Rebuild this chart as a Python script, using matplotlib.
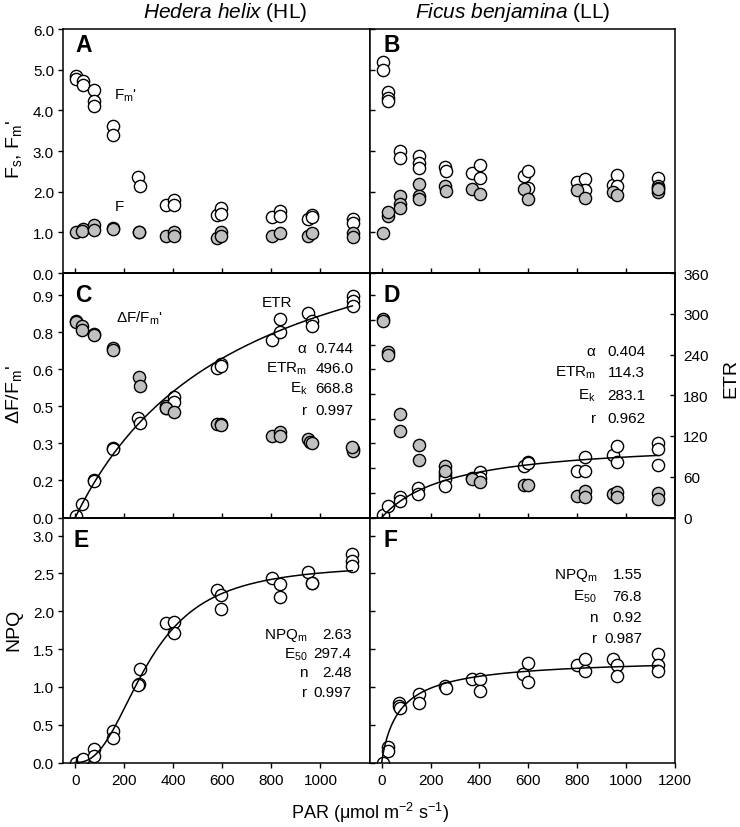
import numpy as np
import matplotlib
matplotlib.use('Agg')
import matplotlib.pyplot as plt
from matplotlib.ticker import MultipleLocator, FixedLocator

plt.rcParams['font.family'] = 'Liberation Sans'
plt.rcParams['mathtext.fontset'] = 'custom'
plt.rcParams['mathtext.rm'] = 'Liberation Sans'
plt.rcParams['mathtext.it'] = 'Liberation Sans:italic'
plt.rcParams['mathtext.bf'] = 'Liberation Sans:bold'
plt.rcParams['mathtext.default'] = 'regular'

# ---- dados ----
# A: Hedera helix, Fm' (abertos) e F (cinza)
a_fm_par = [4, 2, 30, 33, 78, 78, 78, 153, 153, 256, 264, 370, 401, 401, 578, 593, 593,
            803, 836, 836, 950, 966, 966, 1131, 1131]
a_fm = [4.84, 4.77, 4.73, 4.62, 4.50, 4.24, 4.10, 3.62, 3.39, 2.35, 2.13, 1.67, 1.80, 1.67,
        1.43, 1.59, 1.45, 1.37, 1.52, 1.41, 1.33, 1.43, 1.37, 1.33, 1.23]
a_f_par = [4, 30, 26, 78, 78, 153, 153, 260, 260, 370, 401, 401, 578, 593, 593, 803, 836,
           950, 966, 1131, 1131]
a_f = [1.00, 1.08, 1.04, 1.18, 1.06, 1.11, 1.08, 1.02, 1.00, 0.92, 1.02, 0.92, 0.87, 1.00,
       0.90, 0.92, 0.98, 0.90, 0.98, 0.98, 0.89]

# B: Ficus benjamina
b_fm_par = [4, 4, 27, 27, 27, 75, 75, 151, 154, 154, 259, 262, 368, 404, 404, 581, 597, 597,
            800, 833, 833, 948, 961, 961, 1129, 1129, 1129]
b_fm = [5.18, 4.98, 4.46, 4.30, 4.24, 3.00, 2.84, 2.87, 2.70, 2.57, 2.60, 2.50, 2.45, 2.66,
        2.34, 2.38, 2.50, 2.10, 2.25, 2.31, 2.05, 2.16, 2.42, 2.13, 2.33, 2.15, 2.08]
b_f_par = [4, 27, 27, 75, 75, 75, 151, 154, 154, 259, 262, 368, 404, 581, 597, 800, 833,
           948, 961, 1129, 1129]
b_f = [0.98, 1.39, 1.49, 1.89, 1.70, 1.59, 2.19, 1.90, 1.82, 2.13, 2.02, 2.07, 1.94, 2.07,
       1.82, 2.04, 1.84, 1.98, 1.92, 1.98, 2.07]

# C: dF/Fm' (cinza) e ETR (abertos)
c_yield_par = [4, 2, 26, 26, 78, 78, 153, 153, 260, 264, 370, 401, 578, 593, 593, 803, 836,
               836, 950, 959, 966, 1131, 1131, 1127]
c_yield = [0.796, 0.79, 0.776, 0.76, 0.745, 0.738, 0.688, 0.677, 0.569, 0.532, 0.443, 0.426,
           0.379, 0.379, 0.375, 0.328, 0.345, 0.328, 0.318, 0.305, 0.30, 0.278, 0.271, 0.287]
c_etr_par = [4, 26, 78, 78, 153, 153, 256, 264, 370, 401, 401, 370, 578, 593, 593, 803, 836,
             836, 950, 966, 966, 1131, 1131, 1131]
c_etr = [2.4, 19.6, 55.4, 54.0, 103.0, 100.6, 145.8, 138.5, 164.4, 177.7, 170.3, 160.6, 219.5,
         225.9, 223.4, 261.7, 292.2, 273.5, 301.0, 288.8, 282.3, 326.5, 319.2, 310.9]

# D
d_yield_par = [4, 4, 27, 27, 75, 75, 154, 154, 259, 259, 368, 402, 581, 597, 800, 833, 833,
               948, 961, 961, 1129, 1129]
d_yield = [0.805, 0.796, 0.67, 0.659, 0.42, 0.349, 0.294, 0.234, 0.21, 0.19, 0.156, 0.142,
           0.132, 0.132, 0.088, 0.108, 0.081, 0.095, 0.104, 0.084, 0.099, 0.074]
d_etr_par = [4, 27, 75, 75, 150, 150, 259, 259, 259, 259, 368, 402, 402, 581, 597, 597, 800,
             833, 833, 948, 961, 961, 1129, 1129, 1129]
d_etr = [3.4, 17, 29.5, 24.5, 44, 34, 66, 61, 56, 46.5, 57.5, 67, 57.5, 76, 81, 79.6, 68.7,
         88.4, 68.7, 92, 104.6, 82, 109.5, 100.6, 77]

# E, F: NPQ
e_par = [1, 26, 30, 78, 78, 153, 153, 260, 264, 256, 370, 401, 401, 578, 593, 593, 803, 836,
         836, 950, 966, 966, 1127, 1127, 1130]
e_npq = [0.0, 0.035, 0.05, 0.185, 0.088, 0.42, 0.33, 1.04, 1.24, 1.02, 1.85, 1.86, 1.71, 2.28,
         2.22, 2.03, 2.44, 2.36, 2.19, 2.52, 2.38, 2.37, 2.76, 2.67, 2.60]
f_par = [4, 25, 25, 72, 72, 75, 151, 151, 259, 262, 371, 404, 404, 580, 597, 597, 800, 833,
         833, 948, 961, 961, 1129, 1129, 1129]
f_npq = [0.0, 0.21, 0.155, 0.786, 0.75, 0.715, 0.905, 0.786, 1.015, 0.985, 1.10, 1.10, 0.95,
         1.17, 1.316, 1.07, 1.29, 1.37, 1.21, 1.37, 1.29, 1.14, 1.43, 1.29, 1.21]

# parametros dos ajustes (texto) e curvas
c_names = [r'$\alpha$', 'ETR$_m$', 'E$_k$', 'r']
c_vals = ['0.744', '496.0', '668.8', '0.997']
d_names = [r'$\alpha$', 'ETR$_m$', 'E$_k$', 'r']
d_vals = ['0.404', '114.3', '283.1', '0.962']
e_names = ['NPQ$_m$', 'E$_{50}$', 'n', 'r']
e_vals = ['2.63', '297.4', '2.48', '0.997']
f_names = ['NPQ$_m$', 'E$_{50}$', 'n', 'r']
f_vals = ['1.55', '76.8', '0.92', '0.987']

c_etrm, c_ek = 496.0, 668.8
d_etrm, d_ek = 114.3, 283.1
e_npqm, e_e50, e_n = 2.63, 297.4, 2.48
f_npqm, f_e50, f_n = 1.39, 76.8, 0.92   # escala visual da curva em F

par_fit = np.linspace(0, 1130, 300)


def etr_curve(E, m, k):
    return m * E / (k + E)


def hill(E, m, e50, n):
    return m * E**n / (e50**n + E**n)


fig = plt.figure(figsize=(7.4, 8.28), dpi=100)
W, H = 740.0, 828.0
xl, xm, xr = 63, 369.5, 675
yb = [30, 274, 518.5, 763.5]


def make_ax(x0, x1, row):
    return fig.add_axes([x0 / W, 1 - yb[row + 1] / H, (x1 - x0) / W, (yb[row + 1] - yb[row]) / H])


axA = make_ax(xl, xm, 0)
axB = make_ax(xm, xr, 0)
axC = make_ax(xl, xm, 1)
axD = make_ax(xm, xr, 1)
axE = make_ax(xl, xm, 2)
axF = make_ax(xm, xr, 2)

mk = dict(ls='none', marker='o', ms=8.8, mec='black', mew=1.0)
white = dict(mfc='white', **mk)
gray = dict(mfc='#c0c0c0', **mk)
fs_tick = 11
fs_txt = 11

for ax in [axA, axB, axC, axD, axE, axF]:
    ax.set_xlim(-50, 1200)
    for s in ax.spines.values():
        s.set_linewidth(1.1)
    ax.tick_params(labelsize=fs_tick, width=1.0, length=3.5)

# linha superior: ticks x para dentro sem rótulo
for ax in [axA, axB, axC, axD]:
    ax.xaxis.set_major_locator(FixedLocator([0, 200, 400, 600, 800, 1000]))
    ax.tick_params(axis='x', direction='in', labelbottom=False)
axE.xaxis.set_major_locator(FixedLocator([0, 200, 400, 600, 800, 1000]))
axF.xaxis.set_major_locator(FixedLocator([0, 200, 400, 600, 800, 1000, 1200]))
for ax in [axE, axF]:
    ax.tick_params(axis='x', direction='out', pad=4)

# eixos y
axA.set_ylim(0, 6)
axB.set_ylim(0, 6)
axA.yaxis.set_major_locator(MultipleLocator(1))
axB.yaxis.set_major_locator(MultipleLocator(1))
axA.yaxis.set_major_formatter(lambda v, p: f'{v:.1f}')
axA.tick_params(axis='y', direction='out', pad=3)
axB.tick_params(axis='y', direction='in', labelleft=False)

axC.set_ylim(0, 0.99)
axD.set_ylim(0, 0.99)
c_ticks = np.arange(0, 0.91, 0.15)
axC.yaxis.set_major_locator(FixedLocator(c_ticks))
axC.set_yticklabels([f'{v + 1e-9:.1f}' for v in c_ticks])
axC.tick_params(axis='y', direction='out', pad=3)
axD.yaxis.set_major_locator(FixedLocator(np.arange(0, 0.91, 0.1)))
axD.tick_params(axis='y', direction='in', labelleft=False)

axE.set_ylim(0, 3.24)
axF.set_ylim(0, 3.24)
axE.yaxis.set_major_locator(MultipleLocator(0.5))
axF.yaxis.set_major_locator(MultipleLocator(0.5))
axE.yaxis.set_major_formatter(lambda v, p: f'{v:.1f}')
axE.tick_params(axis='y', direction='out', pad=3)
axF.tick_params(axis='y', direction='in', labelleft=False)

# A, B
axA.plot(a_fm_par, a_fm, **white)
axA.plot(a_f_par, a_f, **gray)
axB.plot(b_fm_par, b_fm, **white)
axB.plot(b_f_par, b_f, **gray)

# C, D com eixo ETR
cC = axC.twinx()
cD = axD.twinx()
for main, tw in [(axC, cC), (axD, cD)]:
    tw.set_ylim(0, 360)
    tw.set_xlim(-50, 1200)
    main.set_zorder(tw.get_zorder() + 1)
    main.patch.set_visible(False)
    for s in tw.spines.values():
        s.set_linewidth(1.1)
cC.tick_params(axis='y', right=False, labelright=False)
cD.yaxis.set_major_locator(MultipleLocator(60))
cD.tick_params(axis='y', direction='in', length=3.5, width=1.0, labelsize=fs_tick, pad=6)

cC.plot(c_etr_par, c_etr, **white)
cC.plot(par_fit, etr_curve(par_fit, c_etrm, c_ek), color='black', lw=1.1, zorder=3)
axC.plot(c_yield_par, c_yield, **gray)
cD.plot(d_etr_par, d_etr, **white)
cD.plot(par_fit, etr_curve(par_fit, d_etrm, d_ek), color='black', lw=1.1, zorder=3)
axD.plot(d_yield_par, d_yield, **gray)

# E, F
axE.plot(e_par, e_npq, **white)
axE.plot(par_fit, hill(par_fit, e_npqm, e_e50, e_n), color='black', lw=1.1, zorder=3)
axF.plot(f_par, f_npq, **white)
axF.plot(par_fit, hill(par_fit, f_npqm, f_e50, f_n), color='black', lw=1.1, zorder=3)

# letras dos painéis
for ax, lab, x, y in [(axA, 'A', 0.042, 0.909), (axB, 'B', 0.045, 0.909),
                      (axC, 'C', 0.040, 0.887), (axD, 'D', 0.045, 0.887),
                      (axE, 'E', 0.034, 0.885), (axF, 'F', 0.045, 0.885)]:
    ax.text(x, y, lab, transform=ax.transAxes, fontsize=16.5, fontweight='bold',
            ha='left', va='baseline', zorder=10)

# rótulos internos
axA.text(160, 4.28, "F$_m$'", fontsize=fs_txt, ha='left', va='baseline')
axA.text(160, 1.56, 'F', fontsize=fs_txt, ha='left', va='baseline')
axC.text(165, 0.792, r"$\Delta$F/F$_m$'", fontsize=fs_txt, ha='left', va='baseline')
axC.text(759, 0.857, 'ETR', fontsize=fs_txt, ha='left', va='baseline')


def stats(ax, names, vals, xn, xv, ys):
    for nm, v, y in zip(names, vals, ys):
        ax.text(xn, y, nm, transform=ax.transAxes, fontsize=fs_txt, ha='right', va='baseline', zorder=10)
        ax.text(xv, y, v, transform=ax.transAxes, fontsize=fs_txt, ha='right', va='baseline', zorder=10)


stats(axC, c_names, c_vals, 0.797, 0.949, [0.677, 0.595, 0.513, 0.423])
stats(axD, d_names, d_vals, 0.742, 0.902, [0.665, 0.579, 0.485, 0.391])
stats(axE, e_names, e_vals, 0.797, 0.942, [0.508, 0.430, 0.355, 0.270])
stats(axF, f_names, f_vals, 0.745, 0.892, [0.752, 0.663, 0.579, 0.491])

# títulos e rótulos dos eixos
fig.text(225 / W, 0.978, r'$\mathit{Hedera\ helix}$ (HL)', fontsize=15, ha='center', va='baseline')
fig.text(512.5 / W, 0.978, r'$\mathit{Ficus\ benjamina}$ (LL)', fontsize=15, ha='center', va='baseline')
fig.text(14 / W, 1 - 150 / H, "F$_s$, F$_m$'", fontsize=14, rotation=90, ha='center', va='center')
fig.text(14 / W, 1 - 395 / H, r"$\Delta$F/F$_m$'", fontsize=14, rotation=90, ha='center', va='center')
fig.text(14 / W, 1 - 630 / H, 'NPQ', fontsize=14, rotation=90, ha='center', va='center')
fig.text(731 / W, 1 - 378 / H, 'ETR', fontsize=14, rotation=90, ha='center', va='center')
fig.text(0.5, 0.011, r'PAR ($\mu$mol m$^{-2}$ s$^{-1}$)', fontsize=13, ha='center', va='baseline')

fig.savefig('out.png', dpi=100)
